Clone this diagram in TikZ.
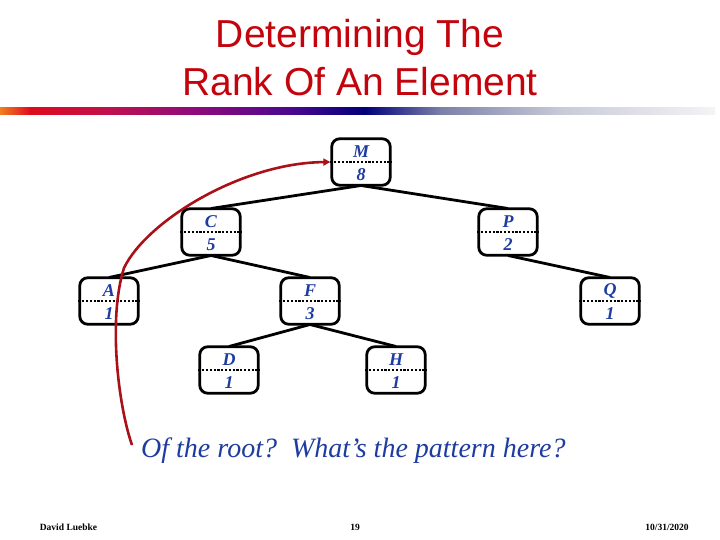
\documentclass[tikz,border=0pt]{standalone}
\usepackage{fontspec}
\setmainfont{Liberation Serif}
\newfontfamily\titlefont{Liberation Sans}
\usetikzlibrary{arrows.meta}
\definecolor{titlered}{RGB}{196,4,12}
\definecolor{nodeblue}{RGB}{30,60,160}
\definecolor{curvered}{RGB}{170,16,24}
\definecolor{g0}{RGB}{240,128,32}
\definecolor{g1}{RGB}{224,10,30}
\definecolor{g2}{RGB}{192,16,78}
\definecolor{g3}{RGB}{139,10,126}
\definecolor{g4}{RGB}{74,8,144}
\definecolor{g5}{RGB}{0,0,122}
\definecolor{g6}{RGB}{122,128,168}
\definecolor{g7}{RGB}{200,202,216}
\definecolor{g8}{RGB}{244,244,246}
\tikzset{
  tbox/.style={draw=black, fill=white, line width=2.8pt, rounded corners=8pt,
    minimum width=58.5pt, minimum height=46.5pt, inner sep=0pt},
  dotline/.style={line width=2.4pt, dash pattern=on 2.2pt off 1.6pt},
  tlabel/.style={font=\fontsize{18}{18}\selectfont\bfseries\itshape, text=nodeblue, inner sep=0pt},
  tedge/.style={line width=2.8pt, black},
  titletext/.style={font=\titlefont\fontsize{39}{39}\selectfont, text=titlered, inner sep=0pt, anchor=base},
  foot/.style={font=\fontsize{9.5}{9.5}\selectfont\bfseries, inner sep=0pt, anchor=base},
}
\newcommand{\treenode}[5]{%
  \node[tbox] (#1) at (#2,#3) {};
  \draw[dotline] (#1.west) -- (#1.east);
  \node[tlabel] (#1-l) at ([yshift=10.5pt]#1.center) {#4};
  \node[tlabel] (#1-n) at ([yshift=-13pt]#1.center) {#5};
}
\begin{document}
\begin{tikzpicture}[x=1pt,y=-1pt]
\useasboundingbox (0,0) rectangle (720,540);
% title
\node[titletext] (t1) at (360,48) {Determining The};
\node[titletext] (t2) at (360,96) {Rank Of An Element};
% gradient bar
\shade[left color=g0, right color=g1] (0,108) rectangle (30.5,114.5);
\shade[left color=g1, right color=g2] (30,108) rectangle (110.5,114.5);
\shade[left color=g2, right color=g3] (110,108) rectangle (200.5,114.5);
\shade[left color=g3, right color=g4] (200,108) rectangle (290.5,114.5);
\shade[left color=g4, right color=g5] (290,108) rectangle (365.5,114.5);
\shade[left color=g5, right color=g6] (365,108) rectangle (440.5,114.5);
\shade[left color=g6, right color=g7] (440,108) rectangle (560.5,114.5);
\shade[left color=g7, right color=g8] (560,108) rectangle (715,114.5);
% node centres
\coordinate (cM) at (361,162);
\coordinate (cC) at (211,232);
\coordinate (cP) at (508,232);
\coordinate (cA) at (109,301);
\coordinate (cF) at (310,301);
\coordinate (cQ) at (610,301);
\coordinate (cD) at (229,370);
\coordinate (cH) at (396,370);
\draw[tedge] ([yshift=-23.5pt]cM) -- ([yshift=23.5pt]cC);
\draw[tedge] ([yshift=-23.5pt]cM) -- ([yshift=23.5pt]cP);
\draw[tedge] ([yshift=-23.5pt]cC) -- ([yshift=23.5pt]cA);
\draw[tedge] ([yshift=-23.5pt]cC) -- ([yshift=23.5pt]cF);
\draw[tedge] ([yshift=-23.5pt]cP) -- ([yshift=23.5pt]cQ);
\draw[tedge] ([yshift=-23.5pt]cF) -- ([yshift=23.5pt]cD);
\draw[tedge] ([yshift=-23.5pt]cF) -- ([yshift=23.5pt]cH);
% nodes
\treenode{M}{361}{162}{M}{8}
\treenode{C}{211}{232}{C}{5}
\treenode{P}{508}{232}{P}{2}
\treenode{A}{109}{301}{A}{1}
\treenode{F}{310}{301}{F}{3}
\treenode{Q}{610}{301}{Q}{1}
\treenode{D}{229}{370}{D}{1}
\treenode{H}{396}{370}{H}{1}
% red curve
\coordinate (start) at (132,445);
\draw[curvered, line width=2.6pt, -{Triangle[length=7pt,width=7pt]}]
  (start) .. controls (118,405) and (108,318) .. (124,268)
  .. controls (146,222) and (240,163) .. (M.west);
% question
\node[font=\fontsize{28}{28}\selectfont\itshape, text=nodeblue, inner sep=0pt, anchor=base west] (q) at (141,457) {Of the root?\ \ What’s the pattern here?};
% footer
\node[foot] (f1) at (68.5,530) {David Luebke};
\node[foot] (f2) at (355,530) {19};
\node[foot] (f3) at (667,530) {10/31/2020};
\end{tikzpicture}
\end{document}
